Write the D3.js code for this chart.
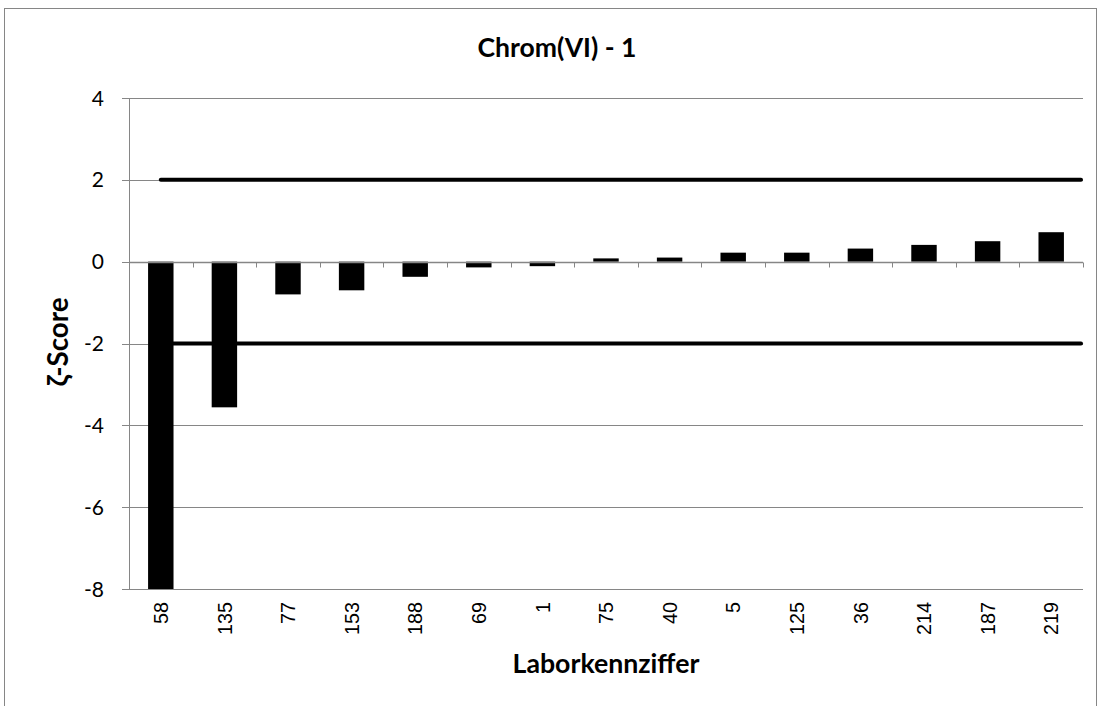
<!DOCTYPE html>
<html><head><meta charset="utf-8">
<script src="https://cdn.jsdelivr.net/npm/d3@7"></script>
<style>body{margin:0;background:#fff}</style>
</head><body>
<script>
const categories = ["58","135","77","153","188","69","1","75","40","5","125","36","214","187","219"];
const scores = [-8.6,-3.56,-0.8,-0.7,-0.37,-0.14,-0.11,0.08,0.1,0.22,0.22,0.32,0.41,0.5,0.72];
const limits = [2,-2];
const yTicks = [4,2,0,-2,-4,-6,-8];
const title = "Chrom(VI) - 1";
const xTitle = "Laborkennziffer";
const yTitle = "ζ-Score";

const W=1101,H=706;
const m={l:129,r:1083,t:98,b:589};
const svg=d3.select("body").append("svg").attr("width",W).attr("height",H);
svg.append("rect").attr("x",4.5).attr("y",8.5).attr("width",1092).attr("height",710).attr("fill","#fff").attr("stroke","#868686");

const sans="Lato, 'Open Sans', sans-serif";
function fit(text, family, weight, target){
  const t=svg.append("text").attr("font-family",family).attr("font-weight",weight).attr("font-size",100).text(text);
  const w=t.node().getComputedTextLength(); t.remove();
  return 100*target/w;
}

const x=d3.scaleBand().domain(categories).range([m.l,m.r]).paddingInner(0.6).paddingOuter(0.3);
const xb=d3.scaleBand().domain(categories).range([m.l,m.r]);
const y=d3.scaleLinear().domain([-8,4]).range([m.b,m.t]);

svg.append("defs").append("clipPath").attr("id","clip").append("rect").attr("x",m.l).attr("y",m.t).attr("width",m.r-m.l).attr("height",m.b-m.t);

// gridlines
svg.append("g").selectAll("line").data(yTicks).join("line")
 .attr("x1",m.l-7).attr("x2",m.r).attr("y1",d=>Math.round(y(d))+0.5).attr("y2",d=>Math.round(y(d))+0.5)
 .attr("stroke","#868686").attr("stroke-width",1);
svg.append("line").attr("x1",m.l+0.5).attr("x2",m.l+0.5).attr("y1",m.t).attr("y2",m.b).attr("stroke","#868686");

// bars
svg.append("g").attr("clip-path","url(#clip)").selectAll("rect").data(categories).join("rect")
 .attr("x",d=>x(d)).attr("width",x.bandwidth())
 .attr("y",(d,i)=>y(Math.max(0,scores[i]))).attr("height",(d,i)=>Math.abs(y(scores[i])-y(0)))
 .attr("fill","#000");

// x axis at zero with ticks
const y0=Math.round(y(0))+0.5;
svg.append("line").attr("x1",m.l).attr("x2",m.r).attr("y1",y0).attr("y2",y0).attr("stroke","#868686").attr("stroke-width",1.5);
svg.append("g").selectAll("line").data(categories).join("line")
 .attr("x1",d=>Math.round(xb(d)+xb.bandwidth())+0.5).attr("x2",d=>Math.round(xb(d)+xb.bandwidth())+0.5)
 .attr("y1",y0).attr("y2",y0+5).attr("stroke","#868686");

// limit lines
svg.append("g").selectAll("line").data(limits).join("line")
 .attr("x1",x(categories[0])+x.bandwidth()/2).attr("x2",m.r-2)
 .attr("y1",d=>y(d)).attr("y2",d=>y(d))
 .attr("stroke","#000").attr("stroke-width",4).attr("stroke-linecap","round");

// y tick labels
const ytSize=fit("-2",sans,"normal",20);
svg.append("g").selectAll("text").data(yTicks).join("text")
 .attr("x",104).attr("y",d=>y(d)).attr("dy","0.36em").attr("text-anchor","end")
 .attr("font-family",sans).attr("font-size",ytSize).text(d=>d);

// x tick labels
const xtFamily="'Liberation Sans', Arial, sans-serif";
const xtSize=fit("135",xtFamily,"normal",33);
svg.append("g").selectAll("text").data(categories).join("text")
 .attr("transform",d=>`translate(${x(d)+x.bandwidth()/2},602) rotate(-90)`)
 .attr("text-anchor","end").attr("dy","0.36em")
 .attr("font-family",xtFamily).attr("font-size",xtSize).text(d=>d);

// titles
svg.append("text").attr("x",557).attr("y",57).attr("text-anchor","middle")
 .attr("font-family",sans).attr("font-weight","bold").attr("font-size",fit(title,sans,"bold",159)).text(title);
svg.append("text").attr("x",(m.l+m.r)/2).attr("y",673).attr("text-anchor","middle")
 .attr("font-family",sans).attr("font-weight","bold").attr("font-size",fit(xTitle,sans,"bold",187)).text(xTitle);
svg.append("text").attr("transform","translate(68,342) rotate(-90)").attr("text-anchor","middle")
 .attr("font-family",sans).attr("font-weight","bold").attr("font-size",fit(yTitle,sans,"bold",89)).text(yTitle);
</script>
</body></html>
